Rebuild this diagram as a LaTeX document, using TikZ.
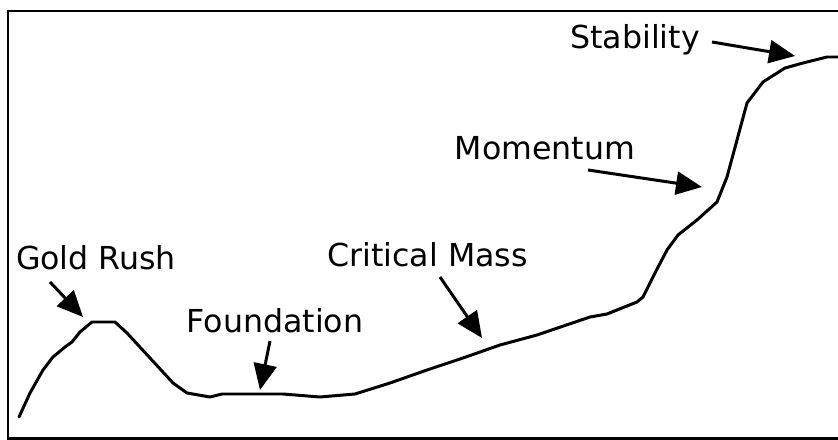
\documentclass[tikz,border=0pt]{standalone}
\usepackage{fontspec}
\setmainfont{DejaVu Sans}
\usepackage{tikz}
\usetikzlibrary{arrows.meta}

\begin{document}
\begin{tikzpicture}[
    lbl/.style={anchor=base, inner sep=0pt, font=\fontsize{18}{21}\selectfont},
    arr/.style={-{Triangle[length=0.52cm, width=0.46cm]}, line width=1.7pt}
  ]
  \useasboundingbox (0,0) rectangle (16.76,8.8);
  \clip (0,0) rectangle (16.76,8.8);
  % frame
  \draw[line width=1.7pt] (0.16,0.03) rectangle (17.2,8.58);
  % growth curve
  \draw[line width=1.7pt, line join=round, line cap=round]
    (0.38,0.46) -- (0.60,0.94) -- (0.86,1.40) -- (1.06,1.66) -- (1.30,1.86)
    -- (1.44,1.96) -- (1.60,2.16) -- (1.84,2.36) -- (2.30,2.36) -- (2.54,2.14)
    -- (3.46,1.14) -- (3.74,0.94) -- (4.20,0.86) -- (4.44,0.92) -- (5.66,0.92)
    -- (6.40,0.86) -- (7.10,0.92) -- (7.80,1.14) -- (8.54,1.40) -- (9.26,1.64)
    -- (10.00,1.90) -- (10.74,2.10) -- (11.80,2.46) -- (12.14,2.52) -- (12.74,2.76)
    -- (12.86,2.86) -- (13.10,3.34) -- (13.34,3.80) -- (13.56,4.10) -- (13.94,4.40)
    -- (14.34,4.76) -- (14.54,5.26) -- (14.74,6.00) -- (14.94,6.74) -- (15.26,7.16)
    -- (15.70,7.44) -- (16.06,7.54) -- (16.54,7.66) -- (16.80,7.66);
  % labels
  \node[lbl] (gold) at (1.92,3.40) {Gold Rush};
  \node[lbl] (found) at (5.50,2.14) {Foundation};
  \node[lbl] (crit) at (8.55,3.46) {Critical Mass};
  \node[lbl] (mom) at (10.90,5.60) {Momentum};
  \node[lbl] (stab) at (12.70,7.82) {Stability};
  % arrow ends
  \coordinate (goldS) at (1.00,3.16);  \coordinate (goldT) at (1.66,2.46);
  \coordinate (foundS) at (5.40,1.98); \coordinate (foundT) at (5.20,1.00);
  \coordinate (critS) at (8.80,3.26);  \coordinate (critT) at (9.64,2.04);
  \coordinate (momS) at (11.76,5.40);  \coordinate (momT) at (14.04,5.06);
  \coordinate (stabS) at (14.24,7.96); \coordinate (stabT) at (15.90,7.68);
  \draw[arr] (goldS) -- (goldT);
  \draw[arr] (foundS) -- (foundT);
  \draw[arr] (critS) -- (critT);
  \draw[arr] (momS) -- (momT);
  \draw[arr] (stabS) -- (stabT);
\end{tikzpicture}
\end{document}
